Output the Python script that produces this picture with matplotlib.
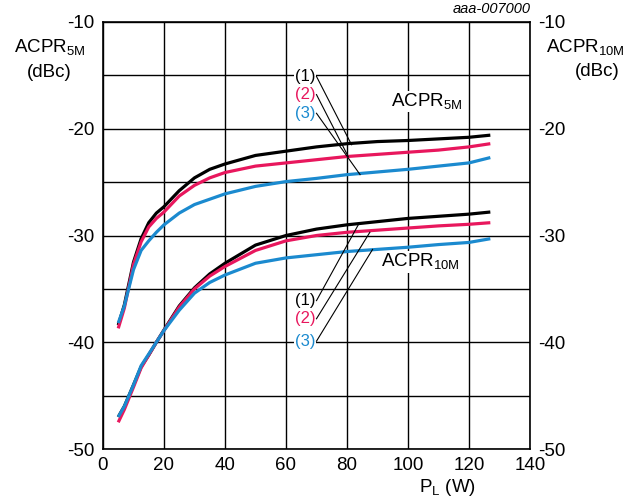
import numpy as np
import matplotlib
matplotlib.use("Agg")
import matplotlib.pyplot as plt

plt.rcParams['font.family'] = ['Liberation Sans', 'DejaVu Sans']
plt.rcParams['mathtext.fontset'] = 'custom'
plt.rcParams['mathtext.rm'] = 'Liberation Sans'

# data
pl = [5, 7, 10, 12.5, 15, 17.5, 20, 25, 30, 35, 40, 50, 60, 70, 80, 90, 100, 110, 120, 127]

acpr5_1 = [-38.4, -36.5, -32.5, -30.3, -28.8, -27.9, -27.3, -25.8, -24.6, -23.8, -23.3,
           -22.5, -22.1, -21.7, -21.4, -21.2, -21.1, -20.95, -20.8, -20.6]
acpr5_2 = [-38.7, -36.8, -32.7, -30.6, -29.2, -28.4, -27.8, -26.3, -25.3, -24.6, -24.1,
           -23.5, -23.2, -22.9, -22.6, -22.4, -22.2, -22.0, -21.7, -21.4]
acpr5_3 = [-38.2, -36.6, -33.2, -31.4, -30.5, -29.7, -29.0, -27.9, -27.1, -26.6, -26.1,
           -25.4, -24.95, -24.65, -24.3, -24.05, -23.8, -23.5, -23.2, -22.7]

acpr10_1 = [-47.0, -46.0, -44.0, -42.3, -41.2, -40.0, -38.85, -36.6, -34.9, -33.6, -32.6,
            -30.9, -30.0, -29.4, -29.0, -28.7, -28.4, -28.2, -28.0, -27.8]
acpr10_2 = [-47.5, -46.3, -44.2, -42.4, -41.2, -40.0, -38.9, -36.7, -35.0, -33.8, -32.9,
            -31.4, -30.5, -30.0, -29.7, -29.5, -29.3, -29.1, -28.95, -28.8]
acpr10_3 = [-47.0, -46.0, -44.0, -42.2, -41.1, -40.0, -38.9, -37.0, -35.4, -34.4, -33.7,
            -32.6, -32.1, -31.8, -31.5, -31.3, -31.1, -30.85, -30.65, -30.3]

black = '#000000'
red = '#e8175d'
blue = '#1b8acf'
colors = [black, red, blue]
labels = ['(1)', '(2)', '(3)']

fig = plt.figure(figsize=(6.35, 5.0), dpi=100)
ax = fig.add_axes([0.1622, 0.102, 0.6724, 0.854])

for ys, c in zip([acpr5_1, acpr5_2, acpr5_3], colors):
    ax.plot(pl, ys, color=c, lw=2.3, solid_capstyle='butt', zorder=3)
for ys, c in zip([acpr10_1, acpr10_2, acpr10_3], colors):
    ax.plot(pl, ys, color=c, lw=2.3, solid_capstyle='butt', zorder=3)

ax.set_xlim(0, 140)
ax.set_ylim(-50, -10)
ax.set_xticks(np.arange(0, 141, 20))
ax.set_yticks(np.arange(-50, -9, 10))
ax.set_yticks(np.arange(-45, -10, 10), minor=True)
ax.grid(True, which='both', color='black', lw=1.0)
ax.tick_params(which='both', length=0, labelsize=13.5, pad=6)
ax.tick_params(axis='y', labelright=True)
ax.set_yticklabels([str(v) for v in range(-50, -9, 10)])
for s in ax.spines.values():
    s.set_linewidth(1.2)

# annotations for ACPR5M
tx = 70
ty = [-15.1, -16.8, -18.55]
ends5 = [(81.5, -21.5), (80.4, -22.6), (84.3, -24.3)]
for lab, c, y, (ex, ey) in zip(labels, colors, ty, ends5):
    ax.text(tx - 0.3, y, lab, color=c, fontsize=12, ha='right', va='center', zorder=4,
            bbox=dict(facecolor='white', edgecolor='none', pad=0.6))
    ax.plot([tx, ex], [y, ey], color='black', lw=0.8, zorder=4)

# annotations for ACPR10M
ty2 = [-36.1, -37.8, -39.9]
ends10 = [(83.7, -29.0), (87.5, -29.7), (88.4, -31.3)]
for lab, c, y, (ex, ey) in zip(labels, colors, ty2, ends10):
    ax.text(tx - 0.3, y, lab, color=c, fontsize=12, ha='right', va='center', zorder=4,
            bbox=dict(facecolor='white', edgecolor='none', pad=0.6))
    ax.plot([tx, ex], [y, ey], color='black', lw=0.8, zorder=4)

ax.text(118, -18.4, r'ACPR$_\mathregular{5M}$', fontsize=13.5, ha='right', va='bottom', zorder=4,
        bbox=dict(facecolor='white', edgecolor='none', pad=0.5))
ax.text(117, -33.4, r'ACPR$_\mathregular{10M}$', fontsize=13.5, ha='right', va='bottom', zorder=4,
        bbox=dict(facecolor='white', edgecolor='none', pad=0.5))

fig.text(0.078, 0.905, r'ACPR$_\mathregular{5M}$', fontsize=13.5, ha='center', va='center')
fig.text(0.078, 0.855, '(dBc)', fontsize=13.5, ha='center', va='center')
fig.text(0.922, 0.905, r'ACPR$_\mathregular{10M}$', fontsize=13.5, ha='center', va='center')
fig.text(0.94, 0.858, '(dBc)', fontsize=13.5, ha='center', va='center')
fig.text(0.835, 0.982, 'aaa-007000', fontsize=10.5, style='italic', ha='right', va='center')
fig.text(0.705, 0.025, r'P$_\mathregular{L}$ (W)', fontsize=13.5, ha='center', va='center')

fig.savefig('out.png', dpi=100)
